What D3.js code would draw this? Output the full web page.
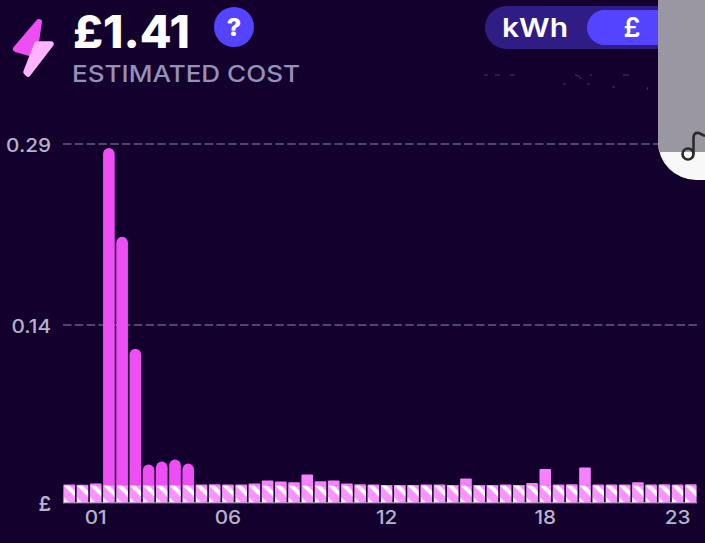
<!DOCTYPE html>
<html><head><meta charset="utf-8">
<script src="https://cdn.jsdelivr.net/npm/d3@7/dist/d3.min.js"></script>
<style>
html,body{margin:0;padding:0;background:#13002d;overflow:hidden}
svg{display:block;font-family:Inter,"Open Sans",sans-serif}
</style></head><body>
<svg id="c" width="705" height="543"></svg>
<script>
const slots = d3.range(48).map(i => String(Math.floor(i/2)).padStart(2,"0") + (i%2 ? ":30" : ":00"));
const cost = [0.0145,0.0143,0.0153,0.2868,0.2150,0.1244,0.0307,0.0331,0.0347,0.0315,
  0.0145,0.0148,0.0145,0.0145,0.0153,0.0177,0.0169,0.0163,0.0226,0.0172,
  0.0177,0.0153,0.0147,0.0145,0.0142,0.0140,0.0142,0.0145,0.0145,0.0140,
  0.0194,0.0140,0.0140,0.0145,0.0142,0.0158,0.0270,0.0145,0.0148,0.0283,
  0.0145,0.0145,0.0145,0.0164,0.0145,0.0148,0.0145,0.0148];
const standing = 0.0140;
const xTickSlots = ["01:00","06:00","12:00","18:00","23:00"];
const xTickLabels = ["01","06","12","18","23"];
const yTicks = [0.1436,0.29];
const tallFrom = 0.03;

const svg = d3.select("#c");
const x = d3.scaleBand().domain(slots).range([63,697]).paddingInner(0.12).paddingOuter(0.03);
const y = d3.scaleLinear().domain([0,0.29]).range([502.5,144]);
const step = x.step();

const defs = svg.append("defs");
const tileH = 30;
const pat = defs.append("pattern").attr("id","hatch").attr("patternUnits","userSpaceOnUse")
  .attr("width",step).attr("height",tileH).attr("x",x(slots[0])).attr("y",y(standing));
pat.append("rect").attr("width",step).attr("height",tileH).attr("fill","#f994ff");
// each stripe is a band of (y - x) inside the tile, so every bar repeats the same two stripes
const stripe = (a,b) => `M0,${a}L${step},${a+step}L${step},${b+step}L0,${b}Z`;
pat.append("path").attr("fill","#fff").attr("d",stripe(-5.5,0)+stripe(12,19));

// gridlines
svg.append("g").selectAll("line").data(yTicks).join("line")
  .attr("x1",63).attr("x2",697)
  .attr("y1",d=>y(d)).attr("y2",d=>y(d))
  .attr("stroke","#6b5a88").attr("stroke-width",1.6).attr("stroke-dasharray","8.5 3.3");

// bars
const topPath = d => {
  const bx=x.bandwidth(), l=x(d.s), t=y(d.v), b=y(standing);
  const r = d.v>tallFrom ? bx/2 : 1;
  return `M${l},${b}V${t+r}A${r},${r} 0 0 1 ${l+r},${t}H${l+bx-r}A${r},${r} 0 0 1 ${l+bx},${t+r}V${b}Z`;
};
const rows = slots.map((s,i)=>({s,v:cost[i]}));
svg.append("g").selectAll("path").data(rows).join("path")
  .attr("d",topPath)
  .attr("fill",d=>d.v>tallFrom?"#ee4ff5":"#f680fd");
svg.append("g").selectAll("rect").data(rows).join("rect")
  .attr("x",d=>x(d.s)).attr("width",x.bandwidth())
  .attr("y",y(standing)).attr("height",y(0)-y(standing))
  .attr("fill","url(#hatch)");
svg.append("line").attr("x1",63).attr("x2",697).attr("y1",y(0)+0.3).attr("y2",y(0)+0.3)
  .attr("stroke","#d9b3e6").attr("stroke-width",1);

// axes
const stretch = (sel,k) => sel.each(function(){
  const t=d3.select(this);
  t.attr("textLength",this.getComputedTextLength()*k).attr("lengthAdjust","spacingAndGlyphs");
});
const xAxis = d3.axisBottom(x).tickValues(xTickSlots).tickSize(0).tickPadding(0)
  .tickFormat(d=>xTickLabels[xTickSlots.indexOf(d)]);
const gx = svg.append("g").attr("transform","translate(0,511)").call(xAxis);
gx.select(".domain").remove();
gx.selectAll("text").attr("fill","#b7b2c9").attr("font-size",18.5).attr("font-weight",500).attr("font-family","Inter").call(stretch,1.12);

const yAxis = d3.axisLeft(y).tickValues(yTicks).tickSize(0).tickPadding(0).tickFormat(d3.format(".2f"));
const gy = svg.append("g").attr("transform","translate(51,1.5)").call(yAxis);
gy.select(".domain").remove();
gy.selectAll("text").attr("fill","#b7b2c9").attr("font-size",18.5).attr("font-weight",500).attr("font-family","Inter").call(stretch,1.12);
svg.append("text").attr("x",51).attr("y",511).attr("text-anchor","end")
  .attr("fill","#b7b2c9").attr("font-size",20).attr("font-weight",600).text("£");

// header
svg.append("path").attr("d","M39,22 L16,49 L30,53 L36,42Z").attr("fill","#ee4ff5")
  .attr("stroke","#ee4ff5").attr("stroke-width",6).attr("stroke-linejoin","round");
svg.append("path").attr("d","M37,44 L51,44 L28,74 L26,72Z").attr("fill","#ffb2ff")
  .attr("stroke","#ffb2ff").attr("stroke-width",5.5).attr("stroke-linejoin","round");

svg.append("text").attr("x",73).attr("y",48).attr("fill","#fff").attr("font-size",45)
  .attr("font-weight",800).attr("textLength",117).attr("lengthAdjust","spacingAndGlyphs").text("£1.41");
svg.append("text").attr("x",72).attr("y",82).attr("fill","#9590ba").attr("font-size",22.5)
  .attr("font-weight",500).attr("textLength",228).attr("lengthAdjust","spacingAndGlyphs").text("ESTIMATED COST");

svg.append("circle").attr("cx",234).attr("cy",27).attr("r",20).attr("fill","#5544ff");
svg.append("text").attr("x",234).attr("y",36).attr("text-anchor","middle").attr("fill","#fff")
  .attr("font-size",25).attr("font-weight",800).text("?");

// toggle
svg.append("rect").attr("x",485).attr("y",6).attr("width",240).attr("height",43).attr("rx",21.5).attr("fill","#2f1d85");
svg.append("rect").attr("x",587).attr("y",10).attr("width",140).attr("height",35).attr("rx",17.5).attr("fill","#5544ff");
svg.append("text").attr("x",502).attr("y",37).attr("fill","#fff")
  .attr("font-size",26).attr("font-weight",600).attr("textLength",66).attr("lengthAdjust","spacingAndGlyphs").text("kWh");
svg.append("text").attr("x",632).attr("y",37).attr("text-anchor","middle").attr("fill","#fff")
  .attr("font-size",27).attr("font-weight",600).text("£");

// faint scraps of hidden text
svg.append("path").attr("fill","none").attr("stroke","#9a93b4").attr("stroke-width",0.7).attr("opacity",0.55)
  .attr("d","M484,75h4M495,75h5M510,75h5M575,75q5,0 6,4M563,84h3M587,84h3M590,75h2M623,75h6M612,87h3M647,90l1,-3");

// overlay panel
const panelOutline = "M658,0H705V180H696A38,38 0 0 1 658,142Z";
defs.append("clipPath").attr("id","panel").append("path").attr("d",panelOutline);
const panel = svg.append("g").attr("clip-path","url(#panel)");
panel.append("rect").attr("x",650).attr("y",0).attr("width",60).attr("height",185).attr("fill","#f8f8f9");
panel.append("rect").attr("x",650).attr("y",0).attr("width",60).attr("height",152).attr("fill","#9a97a3");
svg.append("circle").attr("cx",688).attr("cy",154).attr("r",5.5).attr("fill","none").attr("stroke","#2a2a2a").attr("stroke-width",2.6);
svg.append("path").attr("fill","none").attr("stroke","#2a2a2a").attr("stroke-width",2.6)
  .attr("d","M693.5,154V138Q693.5,132 699,133L705,136");
</script>
</body></html>
